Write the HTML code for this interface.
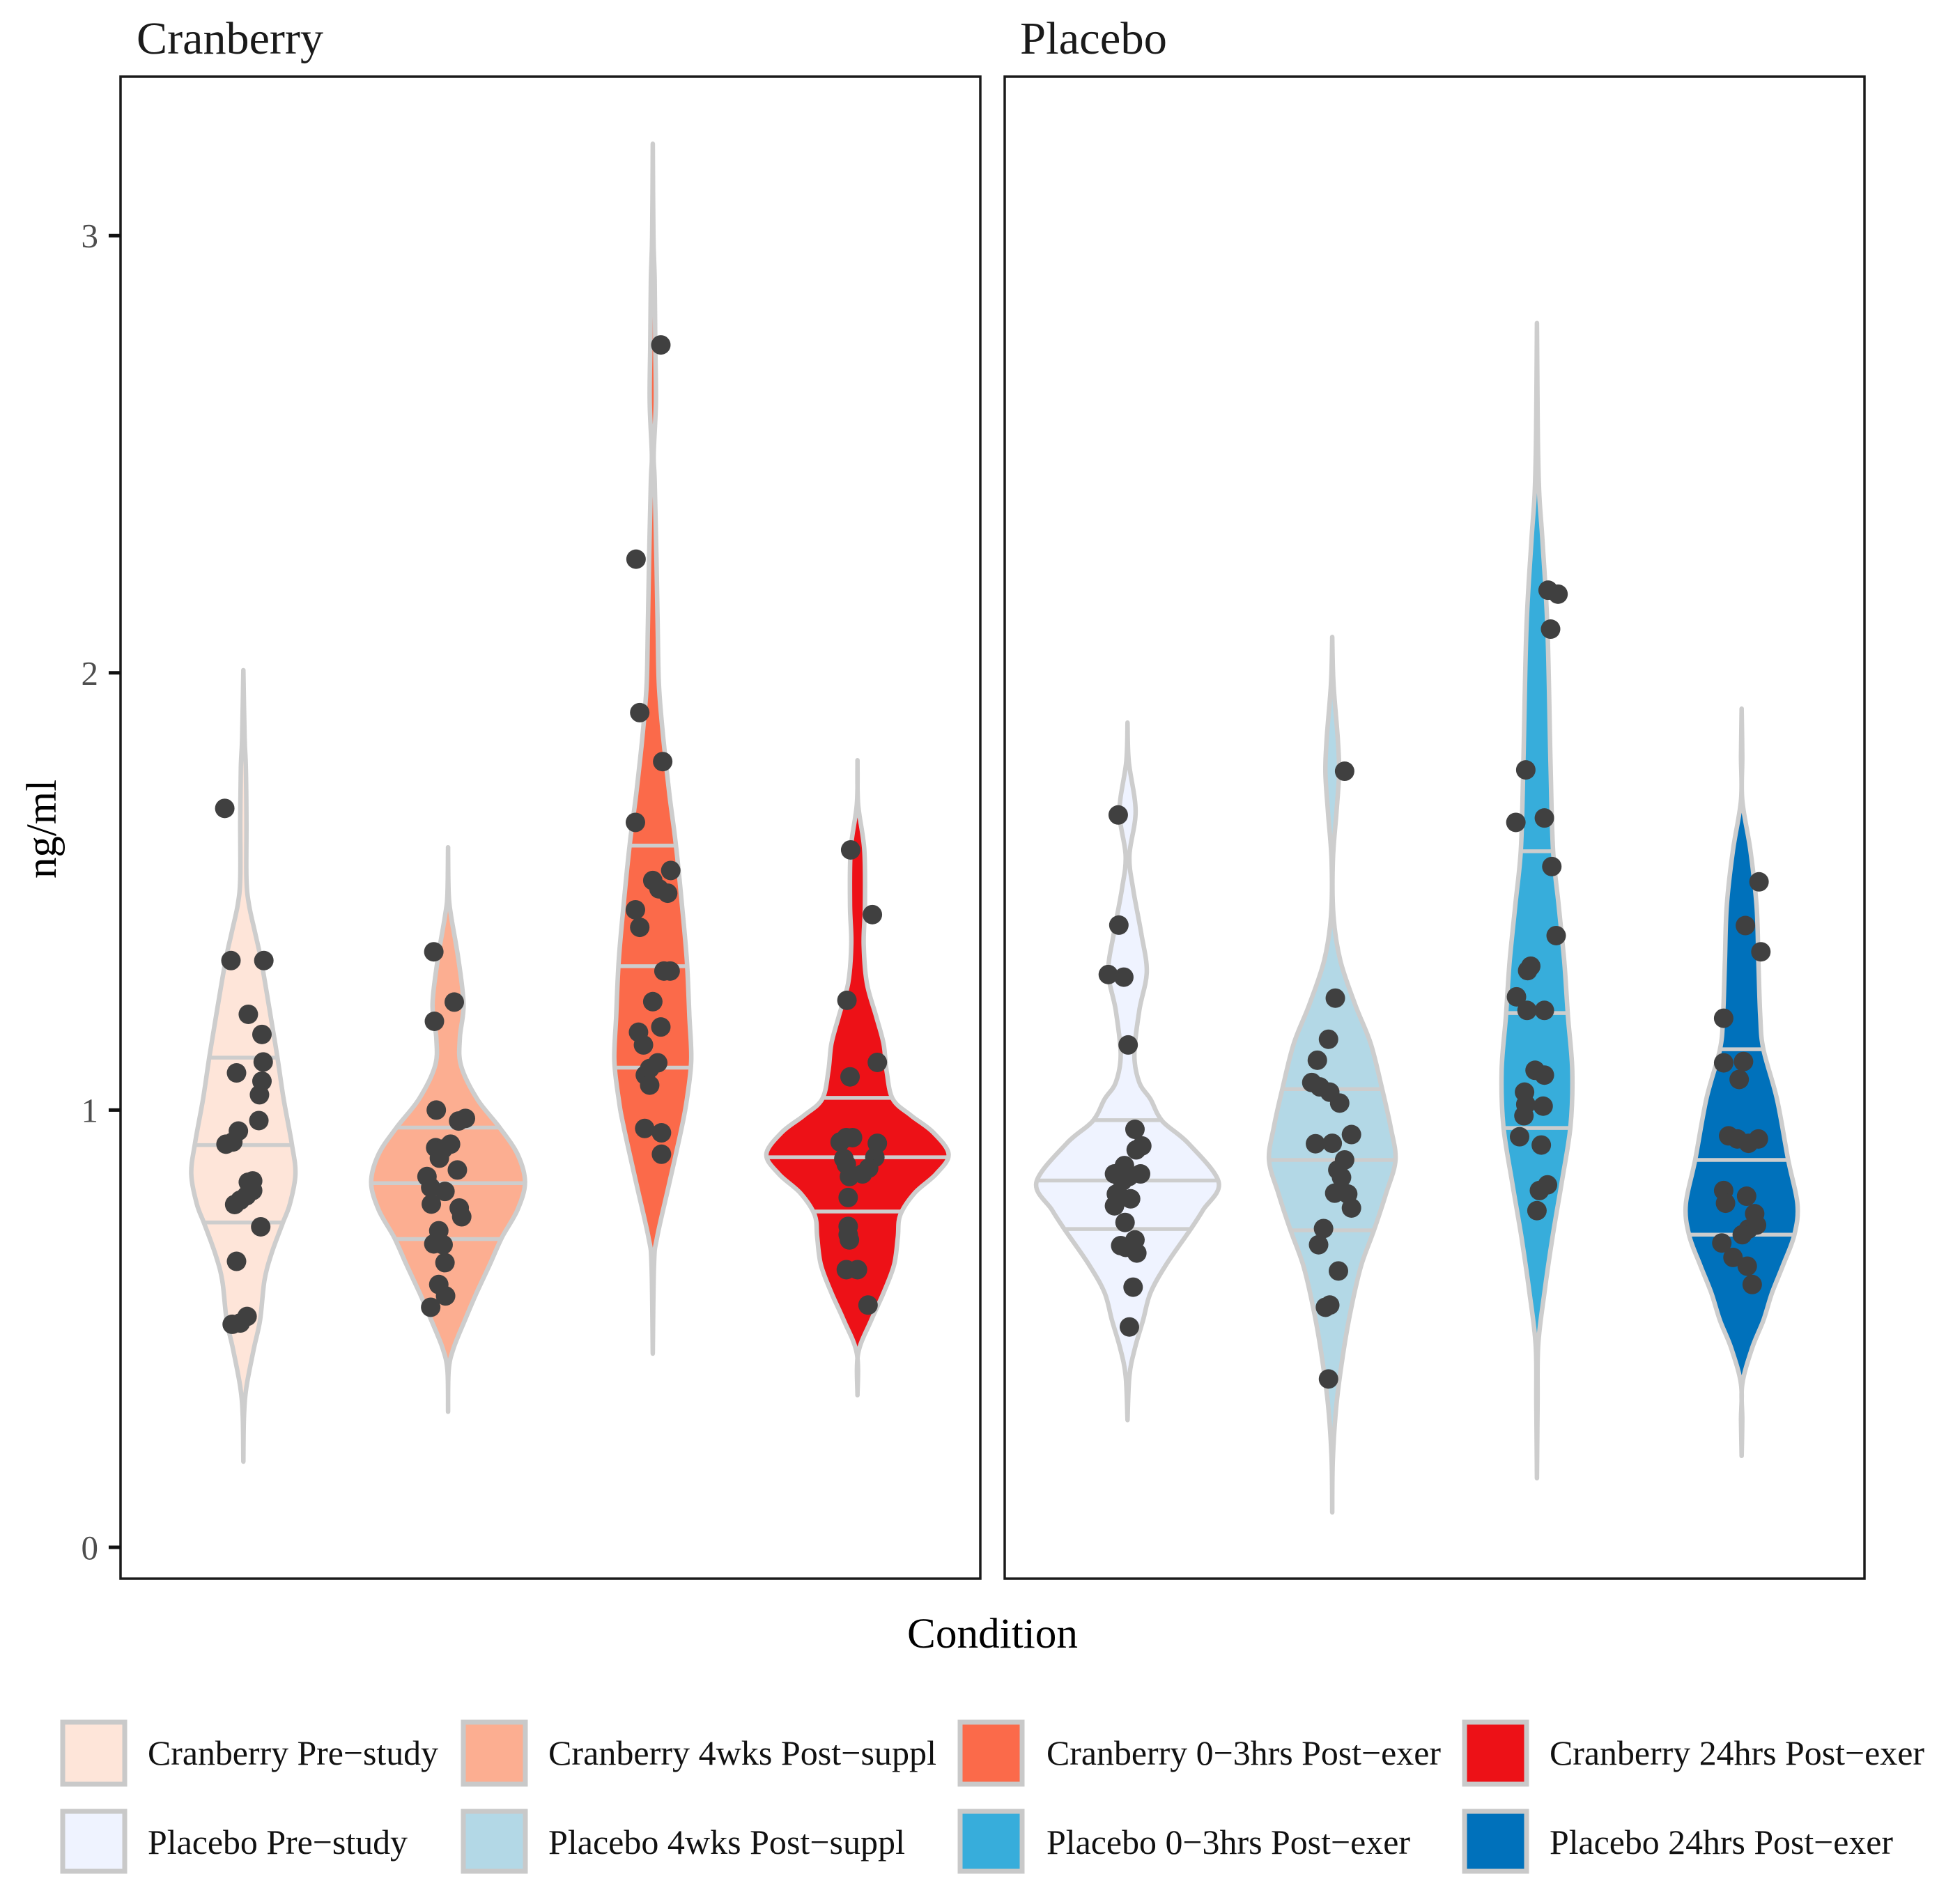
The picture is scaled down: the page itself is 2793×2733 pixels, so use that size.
<!DOCTYPE html>
<html>
<head>
<meta charset="utf-8">
<title>Violin chart: ng/ml by condition</title>
<style>
html,body{margin:0;padding:0;background:#fff;}
svg{display:block;}
text{font-family:"Liberation Serif","Times New Roman",serif;}
</style>
</head>
<body>
<svg id="chart" xmlns="http://www.w3.org/2000/svg" width="2793" height="2733" viewBox="0 0 2793 2733">
  <rect x="0" y="0" width="2793" height="2733" fill="#fff"/>
  <text x="196" y="77" font-size="66" fill="#1a1a1a" textLength="268" lengthAdjust="spacingAndGlyphs">Cranberry</text>
  <text x="1464" y="77" font-size="66" fill="#1a1a1a" textLength="211" lengthAdjust="spacingAndGlyphs">Placebo</text>
  <g id="marks"></g>
  <rect x="173" y="110" width="1234" height="2156" fill="none" stroke="#1a1a1a" stroke-width="3.5"/>
  <rect x="1442" y="110" width="1234" height="2156" fill="none" stroke="#1a1a1a" stroke-width="3.5"/>
  <g id="y-axis"></g>
  <text transform="translate(80,1261) rotate(-90)" font-size="61" fill="#000" textLength="142" lengthAdjust="spacingAndGlyphs">ng/ml</text>
  <text x="1302" y="2365" font-size="61" fill="#000" textLength="245" lengthAdjust="spacingAndGlyphs">Condition</text>
  <g id="legend"></g>
</svg>
<script>
// ---- axis data ----
const yTicks = [0, 1, 2, 3];
const yTickLabels = ['0', '1', '2', '3'];

// ---- Cranberry Pre-study ----
const cranPreLevels = [2.006,1.85,1.785,1.66,1.53,1.47,1.405,1.34,1.215,1.12,1.025,.924,.854,.785,.74,.67,.61,.52,.455,.367,.30,.196];
const cranPreDensity = [0,.02,.04,.05,.05,.09,.19,.29,.44,.55,.65,.78,.84,.75,.63,.45,.34,.27,.17,.05,.01,0];
const cranPreQuantiles = [1.12,.92,.743];
const cranPreJitter = [-.30,-.20,.33,.08,.30,.32,-.11,.30,.26,.25,-.08,-.17,-.28,.15,.08,.15,.05,-.05,-.14,.28,-.11,.06,-.05,-.18];
const cranPreValues = [1.690,1.342,1.342,1.219,1.173,1.110,1.085,1.066,1.035,.976,.952,.927,.922,.838,.835,.816,.804,.794,.784,.733,.654,.528,.513,.510];

// ---- Cranberry 4wks Post-suppl ----
const cran4wkLevels = [1.601,1.494,1.443,1.342,1.241,1.165,1.101,1.025,.962,.899,.835,.772,.709,.646,.582,.519,.456,.405,.31];
const cran4wkDensity = [0,.01,.05,.17,.25,.19,.21,.47,.82,1.12,1.24,1.12,.87,.67,.46,.27,.09,.01,0];
const cran4wkQuantiles = [.96,.833,.705];
const cran4wkJitter = [-.23,.10,-.22,-.19,.28,.17,.04,-.20,-.08,-.14,.15,-.34,-.28,-.05,-.27,.18,.22,-.15,-.23,-.08,-.05,-.15,-.04,-.28];
const cran4wkValues = [1.362,1.247,1.203,1.000,.981,.975,.922,.914,.911,.890,.863,.848,.823,.814,.785,.776,.756,.724,.694,.692,.651,.601,.575,.549];

// ---- Cranberry 0-3hrs Post-exer ----
const cran03Levels = [3.21,3.0,2.9,2.75,2.62,2.5,2.44,2.26,2.1,1.97,1.85,1.72,1.61,1.47,1.34,1.215,1.114,1.025,.962,.835,.709,.646,.443];
const cran03Density = [0,.01,.03,.04,.05,.015,.03,.06,.08,.10,.17,.27,.37,.47,.55,.59,.62,.55,.47,.27,.07,.02,0];
const cran03Quantiles = [1.605,1.329,1.097];
const cran03Jitter = [.13,-.27,-.21,.16,-.28,.29,0,.10,.24,-.28,-.21,.18,.28,0,-.23,.13,-.15,.08,-.05,-.12,-.05,-.13,.14,.14];
const cran03Values = [2.75,2.26,1.909,1.797,1.658,1.548,1.525,1.506,1.496,1.458,1.418,1.318,1.318,1.248,1.178,1.190,1.149,1.108,1.095,1.080,1.057,.958,.948,.899];

// ---- Cranberry 24hrs Post-exer ----
const cran24Levels = [1.80,1.70,1.595,1.468,1.38,1.291,1.215,1.152,1.089,1.025,.987,.949,.899,.854,.81,.76,.709,.646,.582,.519,.443,.348];
const cran24Density = [0,.01,.11,.12,.10,.15,.30,.42,.47,.57,.87,1.22,1.47,1.27,.92,.69,.65,.59,.42,.22,.01,0];
const cran24Quantiles = [1.028,.892,.768];
const cran24Jitter = [-.11,.24,-.17,.32,-.12,-.28,-.18,-.08,.32,-.22,.28,.18,-.18,.08,-.13,-.15,-.15,-.13,-.18,0,.17,-.15];
const cran24Values = [1.595,1.447,1.251,1.109,1.076,.927,.937,.937,.924,.889,.892,.867,.876,.854,.848,.800,.734,.703,.635,.635,.554,.715];

// ---- Placebo Pre-study ----
const placPreLevels = [1.886,1.797,1.684,1.582,1.506,1.405,1.316,1.228,1.127,1.063,1.025,.975,.924,.835,.772,.728,.646,.582,.519,.456,.392,.291];
const placPreDensity = [0,.02,.13,.03,.09,.22,.31,.19,.11,.19,.37,.56,.98,1.47,1.22,1.02,.62,.37,.25,.12,.03,0];
const placPreQuantiles = [.977,.839,.728];
const placPreJitter = [-.15,-.14,-.31,-.06,.01,.12,.23,.14,-.05,-.21,-.08,.21,.02,-.08,-.18,.05,-.11,-.21,-.04,-.11,.12,-.03,.15,.09,.03];
const placPreValues = [1.675,1.423,1.310,1.304,1.149,.956,.918,.909,.873,.854,.854,.854,.848,.838,.808,.797,.800,.781,.743,.690,.703,.686,.673,.595,.504];

// ---- Placebo 4wks Post-suppl ----
const plac4wkLevels = [2.082,1.975,1.848,1.772,1.684,1.57,1.443,1.342,1.241,1.152,1.051,.962,.886,.81,.728,.646,.557,.456,.329,.203,.08];
const plac4wkDensity = [0,.02,.09,.11,.07,.01,.02,.13,.37,.62,.80,.94,1.02,.87,.68,.47,.32,.19,.07,.01,0];
const plac4wkQuantiles = [1.048,.886,.725];
const plac4wkJitter = [.20,.05,-.06,-.24,-.33,-.20,-.04,.12,.31,-.27,0,.20,.09,.15,.04,.25,.31,-.14,-.22,.10,-.04,-.11,-.06];
const plac4wkValues = [1.775,1.256,1.162,1.114,1.063,1.053,1.041,1.016,.944,.923,.924,.886,.863,.846,.810,.808,.776,.729,.692,.632,.554,.549,.385];

// ---- Placebo 0-3hrs Post-exer ----
const plac03Levels = [2.80,2.60,2.49,2.40,2.3,2.1,1.785,1.595,1.468,1.34,1.215,1.09,.962,.835,.709,.582,.462,.329,.158];
const plac03Density = [0,.01,.02,.04,.09,.17,.22,.26,.35,.44,.50,.57,.54,.40,.25,.12,.02,.01,0];
const plac03Quantiles = [1.592,1.222,.959];
const plac03Jitter = [.18,.34,.22,-.18,-.34,.12,.24,.31,-.10,-.15,-.33,-.16,.12,-.03,.12,-.20,.10,-.18,-.21,-.28,.07,.17,.04,0];
const plac03Values = [2.189,2.18,2.10,1.778,1.658,1.668,1.557,1.399,1.329,1.319,1.259,1.228,1.228,1.091,1.080,1.041,1.009,1.013,.987,.939,.920,.829,.816,.770];

// ---- Placebo 24hrs Post-exer ----
const plac24Levels = [1.918,1.81,1.709,1.595,1.468,1.342,1.215,1.139,1.025,.886,.785,.715,.646,.582,.519,.456,.373,.291,.209];
const plac24Density = [0,.01,.01,.14,.24,.27,.30,.35,.57,.75,.90,.85,.67,.49,.35,.17,.01,.01,0];
const plac24Quantiles = [1.139,.886,.715];
const plac24Jitter = [.28,.06,.31,-.29,-.29,.03,-.04,-.21,-.07,.11,.27,-.29,-.26,.08,.21,.24,.11,.01,-.32,-.14,.09,.17];
const plac24Values = [1.522,1.422,1.362,1.210,1.108,1.111,1.070,.941,.934,.924,.934,.816,.787,.803,.763,.737,.728,.715,.696,.663,.643,.601];

// ---- series tables ----
const conditionLabels = ['Cranberry Pre\u2212study','Cranberry 4wks Post\u2212suppl','Cranberry 0\u22123hrs Post\u2212exer','Cranberry 24hrs Post\u2212exer','Placebo Pre\u2212study','Placebo 4wks Post\u2212suppl','Placebo 0\u22123hrs Post\u2212exer','Placebo 24hrs Post\u2212exer'];
const conditionFills = ['#fee5d9','#fcae91','#fb6a4a','#ed1117','#eff3ff','#b3d8e6','#37addb','#0071bb'];
const allLevels = [cranPreLevels,cran4wkLevels,cran03Levels,cran24Levels,placPreLevels,plac4wkLevels,plac03Levels,plac24Levels];
const allDensity = [cranPreDensity,cran4wkDensity,cran03Density,cran24Density,placPreDensity,plac4wkDensity,plac03Density,plac24Density];
const allQuantiles = [cranPreQuantiles,cran4wkQuantiles,cran03Quantiles,cran24Quantiles,placPreQuantiles,plac4wkQuantiles,plac03Quantiles,plac24Quantiles];
const allJitter = [cranPreJitter,cran4wkJitter,cran03Jitter,cran24Jitter,placPreJitter,plac4wkJitter,plac03Jitter,plac24Jitter];
const allValues = [cranPreValues,cran4wkValues,cran03Values,cran24Values,placPreValues,plac4wkValues,plac03Values,plac24Values];

// ---- scales ----
const NS = 'http://www.w3.org/2000/svg';
const PANEL_W = 1234, PANEL_LEFT = [173, 1442], DENSITY_PX = 89;
function yScale(v) { return 2221 - v * 627.6; }
function xCenter(i) {
  const panel = i < 4 ? 0 : 1, slot = i % 4;
  return PANEL_LEFT[panel] + (slot + 0.6) * PANEL_W / 4.2;
}
function widthScale(d) { return d * DENSITY_PX; }
function densityAt(levels, density, v) {
  for (let k = 0; k < levels.length - 1; k++) {
    if (v <= levels[k] && v >= levels[k + 1]) {
      const t = (levels[k] - v) / (levels[k] - levels[k + 1]);
      return density[k] + t * (density[k + 1] - density[k]);
    }
  }
  return 0;
}
function smoothSegs(pts) {
  let d = '';
  for (let k = 0; k < pts.length - 1; k++) {
    const p0 = pts[Math.max(k - 1, 0)], p1 = pts[k], p2 = pts[k + 1], p3 = pts[Math.min(k + 2, pts.length - 1)];
    const c1x = p1[0] + (p2[0] - p0[0]) / 6, c1y = p1[1] + (p2[1] - p0[1]) / 6;
    const c2x = p2[0] - (p3[0] - p1[0]) / 6, c2y = p2[1] - (p3[1] - p1[1]) / 6;
    d += 'C' + c1x.toFixed(1) + ' ' + c1y.toFixed(1) + ' ' + c2x.toFixed(1) + ' ' + c2y.toFixed(1) + ' ' + p2[0].toFixed(1) + ' ' + p2[1].toFixed(1);
  }
  return d;
}

// ---- draw violins, quantiles, points ----
const marks = document.getElementById('marks');
conditionLabels.forEach(function (label, i) {
  const slug = label.toLowerCase().replace(/[^a-z0-9]+/g, '-');
  const cx = xCenter(i);
  const levels = allLevels[i], density = allDensity[i];
  const right = levels.map(function (v, k) { return [cx + widthScale(density[k]), yScale(v)]; });
  const left = levels.map(function (v, k) { return [cx - widthScale(density[k]), yScale(v)]; }).reverse();
  const group = document.createElementNS(NS, 'g');
  
  
  marks.appendChild(group);

  const violin = document.createElementNS(NS, 'path');
  
  
  violin.setAttribute('d', 'M' + right[0][0] + ' ' + right[0][1] + smoothSegs(right) + smoothSegs(left) + 'Z');
  violin.setAttribute('fill', conditionFills[i]);
  violin.setAttribute('stroke', '#cdcdcd');
  violin.setAttribute('stroke-width', '6.5');
  violin.setAttribute('stroke-linejoin', 'round');
  group.appendChild(violin);

  allQuantiles[i].forEach(function (q) {
    const hw = widthScale(densityAt(levels, density, q));
    const line = document.createElementNS(NS, 'line');
    
    
    line.setAttribute('x1', cx - hw);
    line.setAttribute('x2', cx + hw);
    line.setAttribute('y1', yScale(q));
    line.setAttribute('y2', yScale(q));
    line.setAttribute('stroke', '#cdcdcd');
    line.setAttribute('stroke-width', '5.5');
    group.appendChild(line);
  });

  allValues[i].forEach(function (v, k) {
    const dot = document.createElementNS(NS, 'circle');
    
    
    dot.setAttribute('cx', cx + allJitter[i][k] * DENSITY_PX);
    dot.setAttribute('cy', yScale(v));
    dot.setAttribute('r', '14');
    dot.setAttribute('fill', '#404040');
    group.appendChild(dot);
  });
});

// ---- y axis ----
const yAxis = document.getElementById('y-axis');
yTicks.forEach(function (t, i) {
  const tick = document.createElementNS(NS, 'line');
  
  
  tick.setAttribute('x1', 156);
  tick.setAttribute('x2', 173);
  tick.setAttribute('y1', yScale(t));
  tick.setAttribute('y2', yScale(t));
  tick.setAttribute('stroke', '#111');
  tick.setAttribute('stroke-width', '5');
  yAxis.appendChild(tick);
  const lab = document.createElementNS(NS, 'text');
  
  
  lab.setAttribute('x', 141);
  lab.setAttribute('y', yScale(t) + 17);
  lab.setAttribute('text-anchor', 'end');
  lab.setAttribute('font-size', '49');
  lab.setAttribute('fill', '#4d4d4d');
  lab.textContent = yTickLabels[i];
  yAxis.appendChild(lab);
});

// ---- legend ----
const legendSwatchX = [90, 665, 1378, 2102];
const legendTextX = [212, 787, 1502, 2224];
const legendTextW = [417, 557, 566, 538, 373, 512, 522, 493];
const legendRowY = [2472, 2600];
const legendRowH = [89, 86];
const legendBaseline = [2533, 2661];
const legend = document.getElementById('legend');
conditionLabels.forEach(function (label, i) {
  const slug = label.toLowerCase().replace(/[^a-z0-9]+/g, '-');
  const row = i < 4 ? 0 : 1, col = i % 4;
  const key = document.createElementNS(NS, 'rect');
  
  
  key.setAttribute('x', legendSwatchX[col]);
  key.setAttribute('y', legendRowY[row]);
  key.setAttribute('width', 89);
  key.setAttribute('height', legendRowH[row]);
  key.setAttribute('fill', conditionFills[i]);
  key.setAttribute('stroke', '#c9c9c9');
  key.setAttribute('stroke-width', '7');
  legend.appendChild(key);
  const txt = document.createElementNS(NS, 'text');
  
  
  txt.setAttribute('x', legendTextX[col]);
  txt.setAttribute('y', legendBaseline[row]);
  txt.setAttribute('font-size', '50');
  txt.setAttribute('fill', '#111');
  txt.setAttribute('textLength', legendTextW[i]);
  txt.setAttribute('lengthAdjust', 'spacingAndGlyphs');
  txt.textContent = label;
  legend.appendChild(txt);
});
</script>
</body>
</html>
